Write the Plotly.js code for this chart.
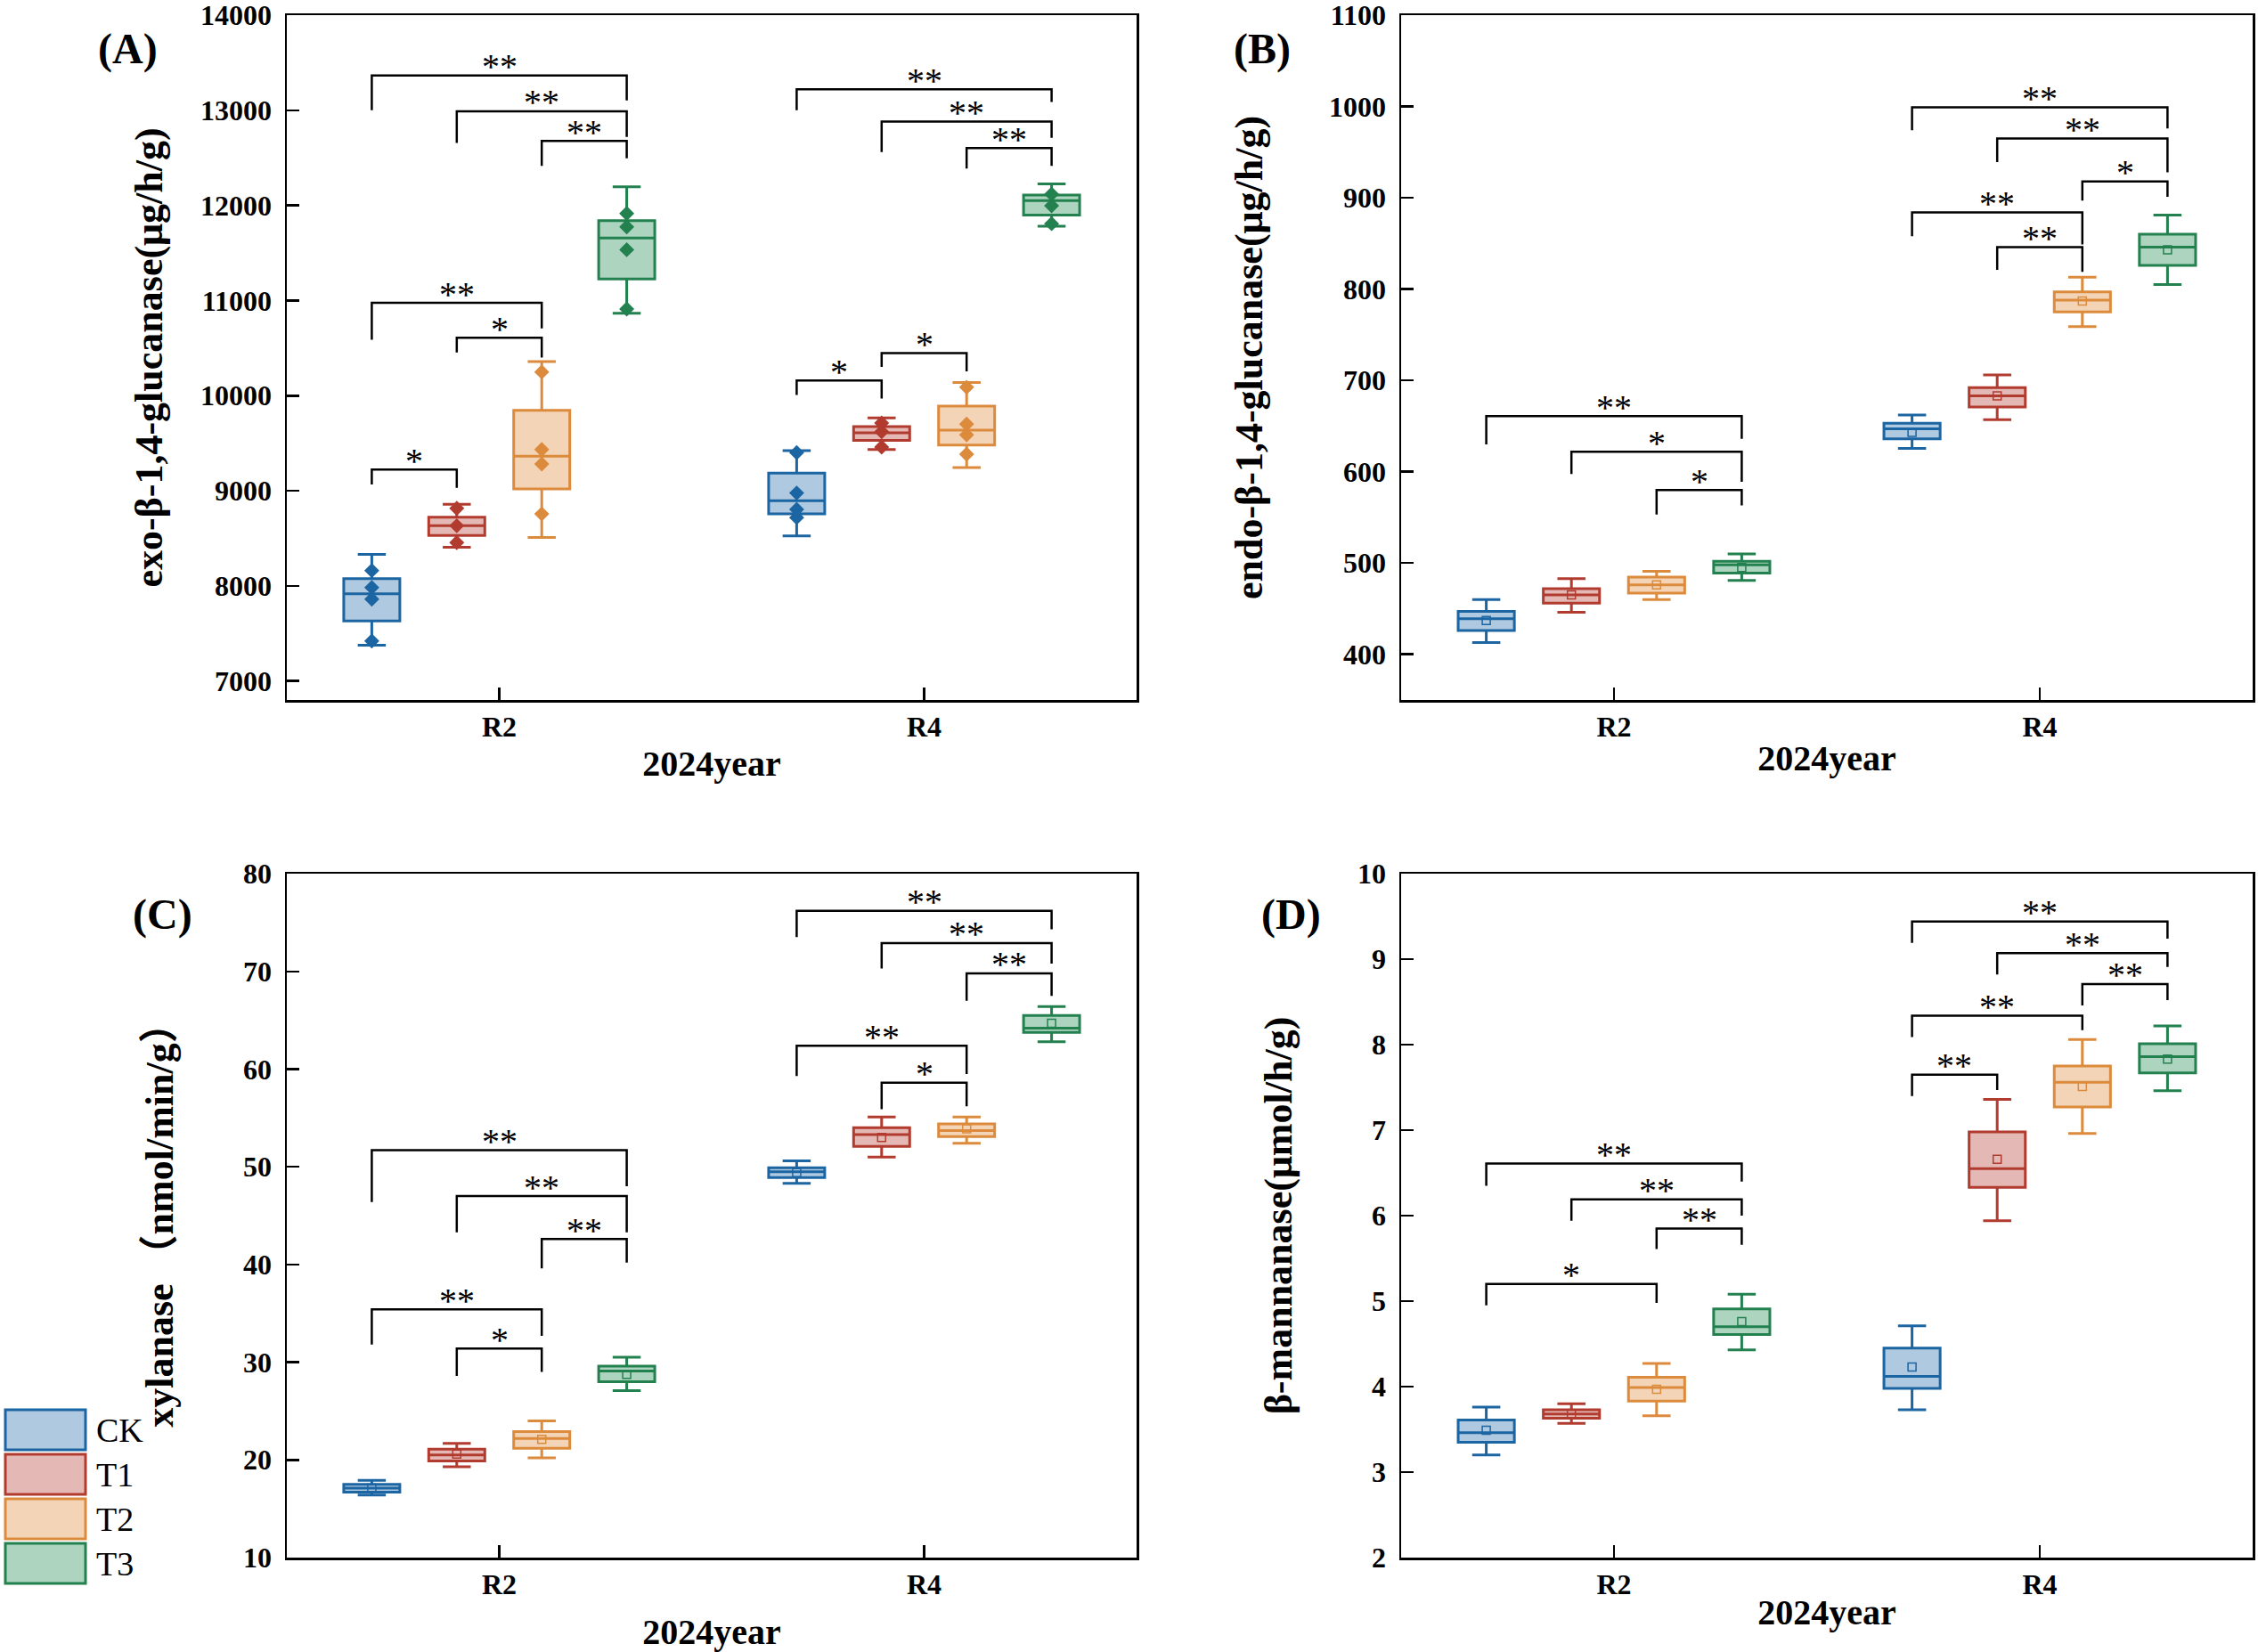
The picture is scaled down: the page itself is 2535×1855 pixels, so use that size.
<!DOCTYPE html>
<html>
<head>
<meta charset="utf-8">
<script src="https://cdn.plot.ly/plotly-3.0.1.min.js"></script>
<style>html,body{margin:0;padding:0;background:#fff;}#chart{width:2535px;height:1855px;}</style>
</head>
<body>
<div id="chart"></div>
<script>
// ---------- data ----------
const categories = ['R2', 'R4'];
const treatments = ['CK', 'T1', 'T2', 'T3'];
const lineColors = ['#1c65a3', '#b23b2f', '#dc8a3c', '#23804f'];
const fillColors = ['#aec9e0', '#e4b9b5', '#f4d4b6', '#acd4bf'];

// (A) exo-β-1,4-glucanase — rows: CK,T1,T2,T3 ; columns: R2,R4
const exoUpper  = [[8332, 9422], [8858, 9766], [10357, 10137], [12195, 12227]];
const exoQ3     = [[8076, 9185], [8723, 9674], [9846, 9889], [11840, 12109]];
const exoMedian = [[7917, 8895], [8632, 9610], [9363, 9637], [11657, 12050]];
const exoQ1     = [[7630, 8756], [8530, 9529], [9019, 9481], [11227, 11899]];
const exoLower  = [[7375, 8525], [8406, 9433], [8508, 9245], [10867, 11781]];
const exoPoints = [
  [[8161, 7983, 7861, 7421], [9400, 8976, 8804, 8718]],
  [[8815, 8632, 8455], [9712, 9621, 9459]],
  [[10249, 9433, 9282, 8756], [10088, 9701, 9588, 9384]],
  [[11915, 11775, 11534, 10910], [12119, 11996, 11808]]
];
// brackets: [category, from, to, barY, leftLegY, rightLegY, label]
const exoBrackets = [
  [0, 0, 3, 13366, 13000, 13103, '**'],
  [0, 1, 3, 12990, 12657, 12721, '**'],
  [0, 2, 3, 12678, 12415, 12495, '**'],
  [0, 0, 2, 10975, 10588, 10706, '**'],
  [0, 1, 2, 10609, 10453, 10400, '*'],
  [0, 0, 1, 9223, 9067, 9030, '*'],
  [1, 0, 3, 13221, 13000, 13087, '**'],
  [1, 1, 3, 12882, 12560, 12710, '**'],
  [1, 2, 3, 12603, 12388, 12415, '**'],
  [1, 0, 1, 10158, 10008, 9970, '*'],
  [1, 1, 2, 10448, 10303, 10255, '*']
];

// (B) endo-β-1,4-glucanase
const endoUpper  = [[460, 662], [483, 706], [491, 813], [510, 881]];
const endoQ3     = [[447, 653], [472, 692], [484.5, 797], [502, 860]];
const endoMedian = [[439, 647], [465, 683], [476, 788], [498, 846]];
const endoQ1     = [[426, 636], [456, 671], [467, 775], [489, 826]];
const endoLower  = [[413, 625.5], [446, 657], [460, 759], [481, 805]];
const endoMean   = [[437, 643], [465, 683], [476, 787], [495, 843]];
const endoBrackets = [
  [0, 0, 3, 661, 630, 636, '**'],
  [0, 1, 3, 622, 597.5, 589, '*'],
  [0, 2, 3, 580, 553, 563, '*'],
  [1, 0, 3, 999, 974, 976, '**'],
  [1, 1, 3, 965, 939, 928, '**'],
  [1, 2, 3, 918, 897, 901, '*'],
  [1, 0, 2, 884, 858, 849, '**'],
  [1, 1, 2, 846, 821, 819, '**']
];

// (C) xylanase
const xylUpper  = [[17.9, 50.6], [21.7, 55.1], [24.0, 55.1], [30.5, 66.4]];
const xylQ3     = [[17.5, 49.9], [21.1, 54.0], [22.9, 54.4], [29.6, 65.5]];
const xylMedian = [[17.1, 49.5], [20.5, 53.3], [22.2, 53.7], [29.1, 64.2]];
const xylQ1     = [[16.7, 48.9], [19.9, 52.1], [21.2, 53.1], [28.0, 63.75]];
const xylLower  = [[16.4, 48.3], [19.3, 51.0], [20.2, 52.4], [27.1, 62.8]];
const xylMean   = [[17.1, 49.4], [20.6, 53.0], [22.1, 53.9], [28.75, 64.7]];
const xylBrackets = [
  [0, 0, 3, 51.7, 46.4, 48.0, '**'],
  [0, 1, 3, 47.0, 43.3, 43.3, '**'],
  [0, 2, 3, 42.6, 39.6, 40.2, '**'],
  [0, 0, 2, 35.4, 31.8, 32.7, '**'],
  [0, 1, 2, 31.4, 28.6, 29.0, '*'],
  [1, 0, 3, 76.2, 73.5, 74.3, '**'],
  [1, 1, 3, 72.9, 70.3, 70.8, '**'],
  [1, 2, 3, 69.8, 67.0, 67.5, '**'],
  [1, 0, 2, 62.4, 59.3, 59.5, '**'],
  [1, 1, 2, 58.6, 55.9, 56.2, '*']
];

// (D) β-mannanase
const manUpper  = [[3.76, 4.71], [3.80, 7.36], [4.27, 8.06], [5.08, 8.22]];
const manQ3     = [[3.61, 4.45], [3.73, 6.98], [4.11, 7.75], [4.91, 8.01]];
const manMedian = [[3.46, 4.12], [3.68, 6.55], [3.99, 7.56], [4.70, 7.86]];
const manQ1     = [[3.35, 3.98], [3.63, 6.33], [3.83, 7.27], [4.61, 7.67]];
const manLower  = [[3.20, 3.73], [3.57, 5.94], [3.66, 6.96], [4.43, 7.46]];
const manMean   = [[3.49, 4.23], [3.68, 6.66], [3.97, 7.51], [4.76, 7.83]];
const manBrackets = [
  [0, 0, 3, 6.61, 6.35, 6.40, '**'],
  [0, 1, 3, 6.19, 5.94, 6.00, '**'],
  [0, 2, 3, 5.85, 5.61, 5.66, '**'],
  [0, 0, 2, 5.20, 4.95, 4.98, '*'],
  [1, 0, 3, 9.44, 9.19, 9.24, '**'],
  [1, 1, 3, 9.07, 8.82, 8.91, '**'],
  [1, 2, 3, 8.71, 8.46, 8.52, '**'],
  [1, 0, 2, 8.34, 8.09, 8.17, '**'],
  [1, 0, 1, 7.65, 7.40, 7.47, '**']
];

const yTitles = ['exo-β-1,4-glucanase(μg/h/g)', 'endo-β-1,4-glucanase(μg/h/g)',
                 'xylanase （nmol/min/g）', 'β-mannanase(μmol/h/g)'];
const xTitle = '2024year';
const panelLabels = ['(A)', '(B)', '(C)', '(D)'];

// ---------- layout helpers ----------
const W = 2535, H = 1855;
const px = v => v / W;
const py = v => 1 - v / H;
const SERIF = 'Liberation Serif, Times New Roman, Noto Sans CJK SC, serif';
const groupStep = 0.2;           // spacing of treatment boxes within a category
const boxWidth = 0.132;
const offsets = treatments.map((t, k) => (k - (treatments.length - 1) / 2) * groupStep);

const traces = [];
const annotations = [];
const shapes = [];

function addPanel(p, st, pts, means, brackets) {
  const xa = p === 0 ? 'x' : 'x' + (p + 1);
  const ya = p === 0 ? 'y' : 'y' + (p + 1);
  treatments.forEach((t, k) => {
    const xs = categories.map((c, i) => i + offsets[k]);
    traces.push({
      type: 'box', xaxis: xa, yaxis: ya, name: t, x: xs,
      q1: st.q1[k], median: st.median[k], q3: st.q3[k],
      lowerfence: st.lower[k], upperfence: st.upper[k],
      width: boxWidth, whiskerwidth: 0.5, boxpoints: false,
      line: {color: lineColors[k], width: 3}, fillcolor: fillColors[k],
      showlegend: false, hoverinfo: 'skip'
    });
  });
  treatments.forEach((t, k) => {
    if (pts) {
      const xs = [], ys = [];
      categories.forEach((c, i) => pts[k][i].forEach(v => { xs.push(i + offsets[k]); ys.push(v); }));
      traces.push({type: 'scatter', mode: 'markers', xaxis: xa, yaxis: ya, x: xs, y: ys,
        marker: {symbol: 'diamond', size: 13, color: lineColors[k]}, showlegend: false, hoverinfo: 'skip'});
    }
    if (means) {
      traces.push({type: 'scatter', mode: 'markers', xaxis: xa, yaxis: ya,
        x: categories.map((c, i) => i + offsets[k]), y: means[k],
        marker: {symbol: 'square-open', size: 9, color: lineColors[k], line: {width: 1.5}},
        showlegend: false, hoverinfo: 'skip'});
    }
  });
  const bx = [], by = [];
  brackets.forEach(b => {
    const xl = b[0] + offsets[b[1]], xr = b[0] + offsets[b[2]];
    bx.push(xl, xl, xr, xr, null);
    by.push(b[4], b[3], b[3], b[5], null);
    annotations.push({xref: xa, yref: ya, x: (xl + xr) / 2, y: b[3], text: b[6],
      showarrow: false, yanchor: 'middle', yshift: 10,
      font: {family: SERIF, size: 40, color: '#000'}});
  });
  traces.push({type: 'scatter', mode: 'lines', xaxis: xa, yaxis: ya, x: bx, y: by,
    line: {color: '#000', width: 2.5}, showlegend: false, hoverinfo: 'skip', cliponaxis: false});
}

addPanel(0, {q1: exoQ1, median: exoMedian, q3: exoQ3, lower: exoLower, upper: exoUpper}, exoPoints, null, exoBrackets);
addPanel(1, {q1: endoQ1, median: endoMedian, q3: endoQ3, lower: endoLower, upper: endoUpper}, null, endoMean, endoBrackets);
addPanel(2, {q1: xylQ1, median: xylMedian, q3: xylQ3, lower: xylLower, upper: xylUpper}, null, xylMean, xylBrackets);
addPanel(3, {q1: manQ1, median: manMedian, q3: manQ3, lower: manLower, upper: manUpper}, null, manMean, manBrackets);

// panel geometry (pixels)
const panels = [
  {l: 322, r: 1276, t: 17, b: 786, yr: [6800, 14000.5], dt: 1000, ystand: 29, xstand: 10},
  {l: 1573, r: 2529, t: 17, b: 786, yr: [350, 1100.05], dt: 100, ystand: 61, xstand: 4},
  {l: 322, r: 1276, t: 981, b: 1749, yr: [10, 80.005], dt: 10, ystand: 65, xstand: 28},
  {l: 1573, r: 2529, t: 981, b: 1749, yr: [2, 10.0005], dt: 1, ystand: 60, xstand: 0}
];

const layout = {
  width: W, height: H, margin: {l: 0, r: 0, t: 0, b: 0},
  paper_bgcolor: '#fff', plot_bgcolor: '#fff', showlegend: false,
  font: {family: SERIF, color: '#000'},
  annotations: annotations, shapes: shapes
};

const tickFont = {family: SERIF, size: 32, weight: 'bold', color: '#000'};
panels.forEach((pn, p) => {
  const sx = p === 0 ? '' : String(p + 1);
  layout['xaxis' + sx] = {
    domain: [px(pn.l), px(pn.r)], anchor: 'y' + sx, range: [-0.5, 1.5],
    tickvals: categories.map((c, i) => i), ticktext: categories,
    showline: true, mirror: true, linecolor: '#000', linewidth: 2.5,
    ticks: 'inside', ticklen: 14, tickwidth: 2.5, tickcolor: '#000',
    showgrid: false, zeroline: false, tickfont: tickFont, ticklabelstandoff: 0,
    title: {text: xTitle, font: {family: SERIF, size: 40, weight: 'bold', color: '#000'}, standoff: pn.xstand}
  };
  layout['yaxis' + sx] = {
    domain: [py(pn.b), py(pn.t)], anchor: 'x' + sx, range: pn.yr,
    tick0: 0, dtick: pn.dt, tickformat: 'd', ticklabeloverflow: 'allow',
    showline: true, mirror: true, linecolor: '#000', linewidth: 2.5,
    ticks: 'inside', ticklen: 14, tickwidth: 2.5, tickcolor: '#000',
    showgrid: false, zeroline: false, tickfont: tickFont, ticklabelstandoff: 8,
    title: {text: yTitles[p], font: {family: SERIF, size: 44, weight: 'bold', color: '#000'}, standoff: pn.ystand}
  };
});

// panel letters
const letterPos = [[143, 55], [1417, 55], [182, 1027], [1449, 1027]];
panelLabels.forEach((t, p) => {
  annotations.push({xref: 'paper', yref: 'paper', x: px(letterPos[p][0]), y: py(letterPos[p][1]),
    text: t, showarrow: false, xanchor: 'center', yanchor: 'middle',
    font: {family: SERIF, size: 48, weight: 'bold', color: '#000'}});
});

// legend (drawn manually to match large swatches)
const legTop = 1583, legStep = 50, swH = 45;
treatments.forEach((t, k) => {
  const y0 = legTop + k * legStep;
  shapes.push({type: 'rect', xref: 'paper', yref: 'paper', x0: px(6), x1: px(96),
    y0: py(y0), y1: py(y0 + swH), line: {color: lineColors[k], width: 3}, fillcolor: fillColors[k]});
  annotations.push({xref: 'paper', yref: 'paper', x: px(106), y: py(y0 + swH / 2), text: t,
    showarrow: false, xanchor: 'left', yanchor: 'middle',
    font: {family: SERIF, size: 38, color: '#000'}});
});

Plotly.newPlot('chart', traces, layout, {staticPlot: true, displayModeBar: false});
</script>
</body>
</html>
